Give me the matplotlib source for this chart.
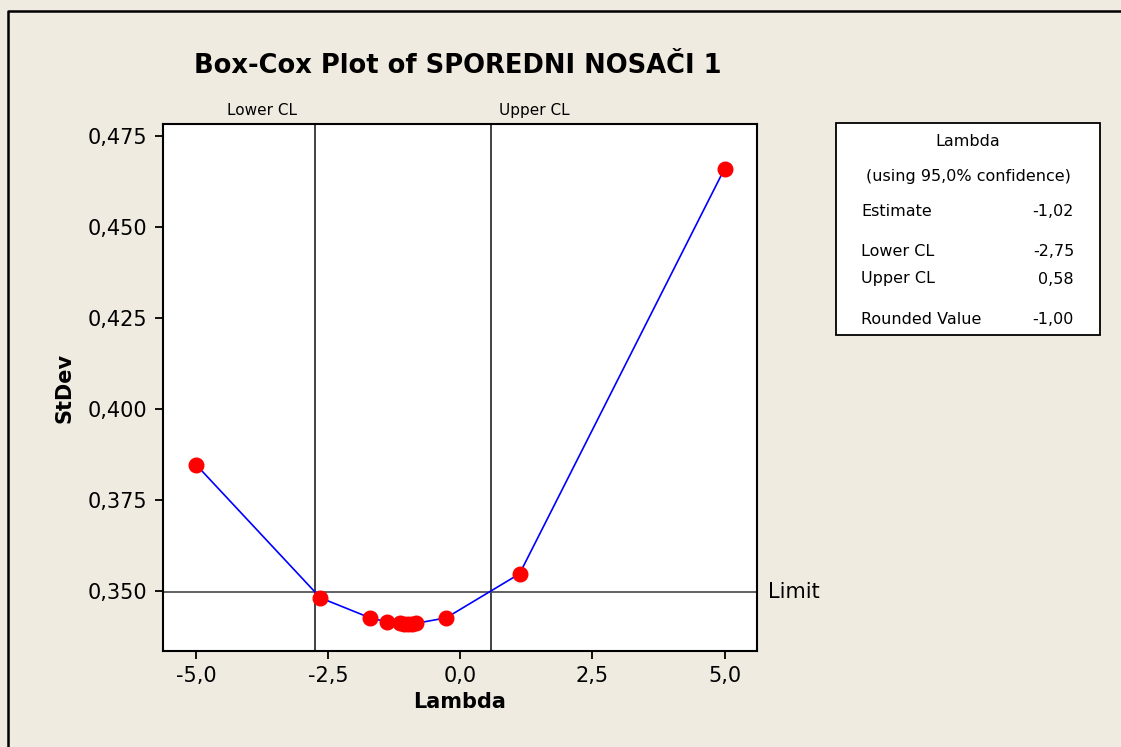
import matplotlib.pyplot as plt
from matplotlib.lines import Line2D
from matplotlib.patches import Rectangle
from matplotlib.ticker import FuncFormatter

# Box-Cox evaluation points (lambda, pooled StDev)
lambdas = [-5.0, -2.65, -1.71, -1.39, -1.14, -1.07, -1.00, -0.92, -0.84, -0.27, 1.12, 5.0]
stdevs = [0.3846, 0.3481, 0.3426, 0.3415, 0.3411, 0.3410, 0.3410, 0.3410, 0.3411, 0.3426, 0.3547, 0.4659]

lower_cl = -2.75
upper_cl = 0.58
limit = 0.3496

x_ticks = [-5.0, -2.5, 0.0, 2.5, 5.0]
y_ticks = [0.350, 0.375, 0.400, 0.425, 0.450, 0.475]

stats_rows = [("Estimate", "-1,02"), ("Lower CL", "-2,75"),
              ("Upper CL", "0,58"), ("Rounded Value", "-1,00")]

bg = "#efebe1"
fig = plt.figure(figsize=(11.21, 7.47), dpi=100, facecolor=bg)

# frame edge along top and left
fx, fy = 7.5 / 1121, 1 - 11 / 747
fig.add_artist(Line2D([fx, fx, 1.0], [0.0, fy, fy], transform=fig.transFigure,
                      color="black", linewidth=1.8))

ax = fig.add_axes([163 / 1121, 1 - 651 / 747, 594 / 1121, 527 / 747])
ax.set_facecolor("white")

ax.axvline(lower_cl, color="#333333", linewidth=1.3, zorder=1)
ax.axvline(upper_cl, color="#333333", linewidth=1.3, zorder=1)
ax.axhline(limit, color="#555555", linewidth=1.3, zorder=1)

ax.plot(lambdas, stdevs, color="blue", linewidth=1.2, zorder=2)
ax.plot(lambdas, stdevs, "o", color="red", markersize=10.5, zorder=3)

ax.set_xlim(-5.63, 5.615)
ax.set_ylim(0.3335, 0.4782)
ax.set_xticks(x_ticks)
ax.set_yticks(y_ticks)
ax.xaxis.set_major_formatter(FuncFormatter(lambda v, p: f"{v:.1f}".replace(".", ",")))
ax.yaxis.set_major_formatter(FuncFormatter(lambda v, p: f"{v:.3f}".replace(".", ",")))
ax.tick_params(direction="out", length=6, width=1.3, labelsize=15, pad=5)
for s in ax.spines.values():
    s.set_linewidth(1.5)

ax.set_xlabel("Lambda", fontsize=15, fontweight="bold", labelpad=4)
ax.set_ylabel("StDev", fontsize=15, fontweight="bold", labelpad=10)

fig.text(458 / 1121, 1 - 66 / 747, "Box-Cox Plot of SPOREDNI NOSAČI 1",
         ha="center", va="center", fontsize=18.5, fontweight="bold")

ax.annotate("Lower CL", xy=(lower_cl, 1), xycoords=("data", "axes fraction"),
            xytext=(-13, 4), textcoords="offset points", ha="right", va="bottom",
            fontsize=11)
ax.annotate("Upper CL", xy=(upper_cl, 1), xycoords=("data", "axes fraction"),
            xytext=(6, 4), textcoords="offset points", ha="left", va="bottom",
            fontsize=11)
ax.annotate("Limit", xy=(1, limit), xycoords=("axes fraction", "data"),
            xytext=(8, 0), textcoords="offset points", ha="left", va="center",
            fontsize=15)

# stats box on the right
box_l, box_r, box_t, box_b = 836, 1100, 123, 335
fig.patches.append(Rectangle((box_l / 1121, 1 - box_b / 747),
                             (box_r - box_l) / 1121, (box_b - box_t) / 747,
                             transform=fig.transFigure, facecolor="white",
                             edgecolor="black", linewidth=1.3))
cx = (box_l + box_r) / 2 / 1121
fig.text(cx, 1 - 142 / 747, "Lambda", ha="center", va="center", fontsize=11.5)
fig.text(cx, 1 - 177 / 747, "(using 95,0% confidence)", ha="center", va="center", fontsize=11.5)
row_y = [211, 252, 279, 320]
for (name, val), yy in zip(stats_rows, row_y):
    fig.text(861 / 1121, 1 - yy / 747, name, ha="left", va="center", fontsize=11.5)
    fig.text(1074 / 1121, 1 - yy / 747, val, ha="right", va="center", fontsize=11.5)

fig.savefig("out.png", dpi=100, facecolor=bg)
